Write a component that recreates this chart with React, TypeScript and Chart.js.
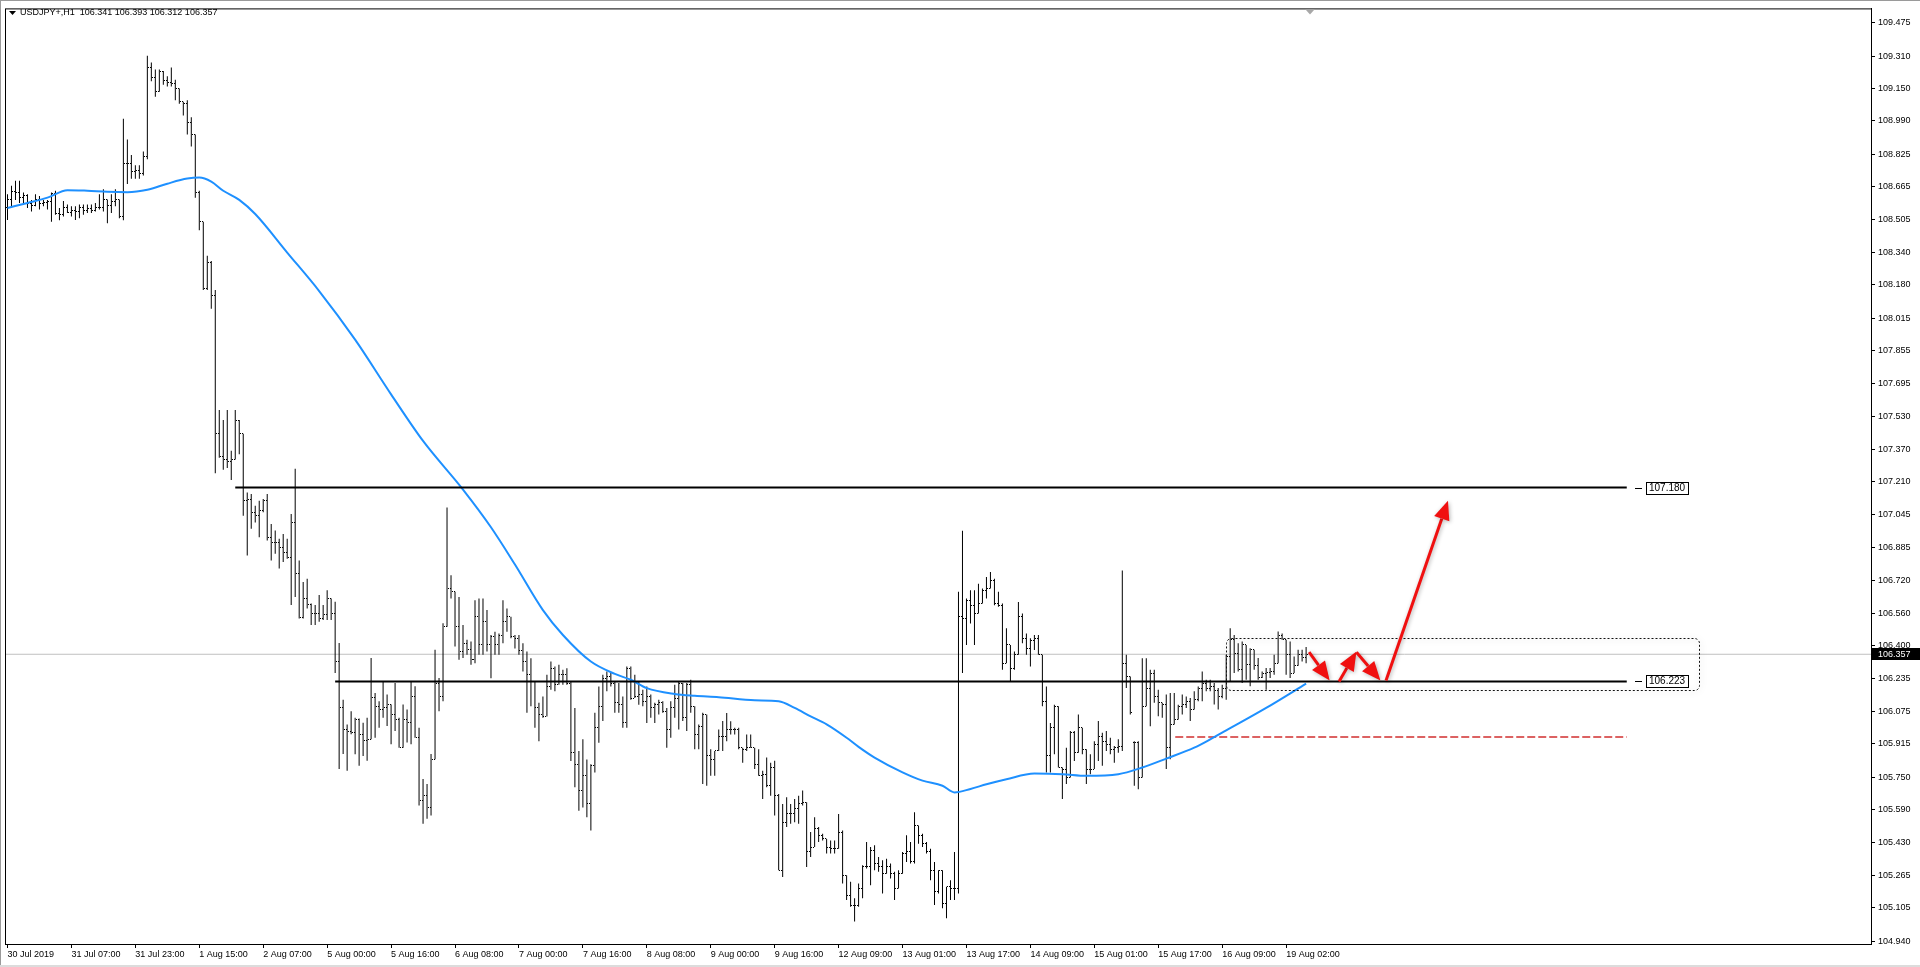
import { useEffect, useRef } from 'react';
import { Chart, registerables } from 'chart.js';

Chart.register(...registerables);

const FONT = '"Liberation Sans", Arial, sans-serif';

const symbolTitle = 'USDJPY+,H1';
const lastQuote = ['106.341', '106.393', '106.312', '106.357'];
const currentPrice = 106.357;

const timeTickBars = [0, 16, 32, 48, 64, 80, 96, 112, 128, 144, 160, 176, 192, 208, 224, 240, 256, 272, 288, 304, 320];
const timeLabels = ['30 Jul 2019', '31 Jul 07:00', '31 Jul 23:00', '1 Aug 15:00', '2 Aug 07:00', '5 Aug 00:00', '5 Aug 16:00', '6 Aug 08:00', '7 Aug 00:00', '7 Aug 16:00', '8 Aug 08:00', '9 Aug 00:00', '9 Aug 16:00', '12 Aug 09:00', '13 Aug 01:00', '13 Aug 17:00', '14 Aug 09:00', '15 Aug 01:00', '15 Aug 17:00', '16 Aug 09:00', '19 Aug 02:00'];

const priceTicks = [109.475, 109.310, 109.150, 108.990, 108.825, 108.665, 108.505, 108.340, 108.180, 108.015, 107.855, 107.695, 107.530, 107.370, 107.210, 107.045, 106.885, 106.720, 106.560, 106.400, 106.235, 106.075, 105.915, 105.750, 105.590, 105.430, 105.265, 105.105, 104.940];

// hourly bars, index 0 = 30 Jul 2019 15:00
const barOpen = [
  108.560, 108.600, 108.640, 108.636, 108.610, 108.620, 108.580, 108.570, 108.600, 108.580,
  108.585, 108.590, 108.630, 108.535, 108.530, 108.560, 108.540, 108.550, 108.545, 108.560,
  108.550, 108.555, 108.550, 108.560, 108.560, 108.600, 108.570, 108.590, 108.600, 108.520,
  108.780, 108.780, 108.740, 108.746, 108.730, 108.813, 109.253, 109.202, 109.134, 109.236,
  109.190, 109.177, 109.175, 109.150, 109.084, 109.075, 108.982, 108.923, 108.636, 108.492,
  108.163, 108.290, 108.130, 107.445, 107.335, 107.320, 107.310, 107.320, 107.513, 107.445,
  107.115, 107.123, 107.058, 107.041, 107.066, 107.115, 106.935, 106.910, 106.910, 106.886,
  106.861, 106.837, 107.008, 106.755, 106.537, 106.632, 106.603, 106.559, 106.559, 106.534,
  106.551, 106.632, 106.559, 106.322, 106.093, 105.986, 105.978, 105.970, 106.035, 105.962,
  105.929, 105.937, 106.142, 106.101, 106.084, 106.093, 106.109, 106.060, 106.035, 105.896,
  106.035, 106.019, 106.150, 105.945, 105.635, 105.659, 105.602, 105.839, 106.215, 106.150,
  106.493, 106.681, 106.665, 106.493, 106.371, 106.412, 106.379, 106.330, 106.542, 106.403,
  106.517, 106.403, 106.444, 106.403, 106.452, 106.517, 106.542, 106.444, 106.436, 106.378,
  106.321, 106.256, 106.223, 106.092, 106.059, 106.051, 106.198, 106.288, 106.207, 106.256,
  106.256, 106.215, 105.871, 105.814, 105.683, 105.757, 105.618, 105.806, 105.994, 106.100,
  106.239, 106.247, 106.215, 106.117, 106.108, 106.018, 106.288, 106.141, 106.149, 106.157,
  106.125, 106.149, 106.092, 106.108, 106.117, 106.076, 105.986, 106.092, 106.141, 106.215,
  106.043, 106.207, 106.100, 105.961, 106.002, 106.059, 105.855, 105.839, 105.880, 105.953,
  105.953, 105.986, 105.986, 105.986, 105.896, 105.888, 105.896, 105.896, 105.814, 105.757,
  105.765, 105.708, 105.798, 105.659, 105.291, 105.528, 105.569, 105.569, 105.594, 105.618,
  105.626, 105.381, 105.405, 105.495, 105.463, 105.446, 105.405, 105.397, 105.397, 105.479,
  105.266, 105.168, 105.119, 105.119, 105.201, 105.307, 105.307, 105.389, 105.324, 105.307,
  105.274, 105.307, 105.274, 105.201, 105.274, 105.373, 105.381, 105.332, 105.512, 105.463,
  105.422, 105.381, 105.291, 105.185, 105.291, 105.127, 105.209, 105.201, 105.201, 106.542,
  106.534, 106.624, 106.599, 106.558, 106.607, 106.673, 106.681, 106.722, 106.607, 106.599,
  106.313, 106.403, 106.288, 106.354, 106.542, 106.436, 106.386, 106.427, 106.436, 106.354,
  106.125, 105.855, 105.994, 106.100, 105.798, 105.790, 105.749, 105.969, 105.871, 105.994,
  105.888, 105.790, 105.790, 105.912, 105.953, 105.928, 105.912, 105.888, 105.896, 105.904,
  106.313, 106.247, 105.920, 105.920, 105.749, 106.100, 106.190, 106.264, 106.149, 106.117,
  106.108, 105.896, 106.010, 106.035, 106.100, 106.108, 106.125, 106.084, 106.133, 106.190,
  106.215, 106.190, 106.200, 106.180, 106.150, 106.190, 106.346, 106.428, 106.362, 106.280,
  106.403, 106.305, 106.379, 106.300, 106.240, 106.260, 106.265, 106.270, 106.313, 106.452,
  106.428, 106.354, 106.264, 106.300, 106.354, 106.341
];
const barHigh = [
  108.628, 108.670, 108.695, 108.695, 108.636, 108.628, 108.600, 108.628, 108.619, 108.600,
  108.600, 108.636, 108.645, 108.560, 108.594, 108.577, 108.569, 108.569, 108.577, 108.577,
  108.577, 108.577, 108.585, 108.628, 108.653, 108.602, 108.628, 108.653, 108.602, 109.000,
  108.898, 108.822, 108.771, 108.771, 108.839, 109.312, 109.278, 109.244, 109.244, 109.236,
  109.210, 109.253, 109.193, 109.150, 109.084, 109.092, 109.008, 108.923, 108.645, 108.492,
  108.324, 108.298, 108.155, 107.563, 107.513, 107.563, 107.361, 107.563, 107.513, 107.445,
  107.156, 107.148, 107.090, 107.115, 107.123, 107.148, 107.000, 106.968, 106.927, 106.951,
  106.927, 107.049, 107.273, 106.820, 106.714, 106.730, 106.608, 106.600, 106.649, 106.600,
  106.673, 106.632, 106.616, 106.412, 106.133, 106.010, 106.076, 106.043, 106.040, 106.019,
  106.043, 106.338, 106.166, 106.125, 106.223, 106.158, 106.109, 106.215, 106.043, 106.109,
  106.084, 106.223, 106.199, 105.994, 105.741, 105.716, 105.864, 106.379, 106.240, 106.510,
  107.082, 106.747, 106.665, 106.640, 106.501, 106.428, 106.420, 106.624, 106.632, 106.632,
  106.575, 106.452, 106.468, 106.460, 106.624, 106.583, 106.542, 106.452, 106.452, 106.411,
  106.370, 106.337, 106.223, 106.117, 106.149, 106.256, 106.321, 106.297, 106.305, 106.280,
  106.288, 106.223, 106.092, 105.879, 105.937, 105.838, 105.814, 106.068, 106.198, 106.256,
  106.272, 106.264, 106.223, 106.215, 106.149, 106.297, 106.297, 106.256, 106.223, 106.182,
  106.198, 106.158, 106.117, 106.133, 106.125, 106.092, 106.125, 106.207, 106.223, 106.215,
  106.215, 106.231, 106.100, 106.010, 106.068, 106.059, 105.888, 105.880, 105.986, 106.027,
  106.067, 106.026, 105.994, 105.994, 105.896, 105.961, 105.961, 105.896, 105.888, 105.782,
  105.847, 105.822, 105.831, 105.667, 105.618, 105.651, 105.618, 105.643, 105.659, 105.684,
  105.626, 105.479, 105.553, 105.504, 105.471, 105.446, 105.438, 105.438, 105.569, 105.487,
  105.266, 105.234, 105.152, 105.225, 105.316, 105.430, 105.405, 105.414, 105.356, 105.340,
  105.348, 105.324, 105.283, 105.291, 105.381, 105.463, 105.430, 105.577, 105.512, 105.471,
  105.430, 105.397, 105.332, 105.291, 105.291, 105.209, 105.242, 105.381, 106.665, 106.967,
  106.632, 106.673, 106.673, 106.705, 106.681, 106.738, 106.763, 106.730, 106.665, 106.607,
  106.485, 106.403, 106.370, 106.615, 106.558, 106.460, 106.436, 106.452, 106.452, 106.354,
  106.198, 106.018, 106.108, 106.100, 105.798, 105.896, 105.978, 105.978, 106.059, 105.994,
  105.888, 105.863, 105.928, 106.027, 105.969, 105.978, 105.945, 105.904, 105.937, 106.771,
  106.354, 106.247, 105.928, 105.928, 106.337, 106.337, 106.280, 106.280, 106.182, 106.117,
  106.158, 106.166, 106.166, 106.108, 106.158, 106.149, 106.141, 106.174, 106.198, 106.272,
  106.231, 106.231, 106.215, 106.190, 106.207, 106.354, 106.485, 106.452, 106.411, 106.420,
  106.403, 106.387, 106.379, 106.338, 106.272, 106.289, 106.289, 106.354, 106.469, 106.460,
  106.428, 106.420, 106.346, 106.379, 106.379, 106.393
];
const barLow = [
  108.501, 108.560, 108.600, 108.585, 108.577, 108.560, 108.543, 108.569, 108.552, 108.569,
  108.552, 108.492, 108.526, 108.500, 108.518, 108.535, 108.518, 108.501, 108.509, 108.526,
  108.535, 108.535, 108.543, 108.552, 108.543, 108.484, 108.535, 108.569, 108.509, 108.500,
  108.678, 108.704, 108.704, 108.704, 108.720, 108.800, 109.185, 109.109, 109.134, 109.168,
  109.160, 109.160, 109.092, 109.075, 109.016, 108.923, 108.864, 108.611, 108.450, 108.155,
  108.155, 108.062, 107.251, 107.327, 107.268, 107.276, 107.217, 107.319, 107.344, 107.041,
  106.845, 106.976, 107.008, 106.935, 107.058, 106.918, 106.820, 106.853, 106.780, 106.812,
  106.829, 106.600, 106.640, 106.534, 106.534, 106.583, 106.501, 106.501, 106.518, 106.526,
  106.526, 106.526, 106.264, 105.790, 105.864, 105.782, 105.962, 105.864, 105.806, 105.855,
  105.831, 105.937, 105.945, 105.994, 106.043, 106.003, 105.913, 105.978, 105.896, 105.896,
  105.921, 105.913, 105.945, 105.610, 105.520, 105.545, 105.561, 105.839, 106.076, 106.125,
  106.493, 106.632, 106.395, 106.330, 106.338, 106.354, 106.305, 106.313, 106.354, 106.354,
  106.370, 106.239, 106.354, 106.354, 106.411, 106.468, 106.436, 106.386, 106.354, 106.272,
  106.068, 106.100, 105.994, 105.928, 106.043, 106.050, 106.182, 106.174, 106.207, 106.207,
  106.207, 105.830, 105.700, 105.585, 105.601, 105.552, 105.487, 105.773, 105.920, 106.027,
  106.174, 106.198, 106.068, 106.068, 105.994, 105.994, 106.133, 106.141, 106.108, 106.100,
  106.018, 106.043, 106.018, 106.059, 106.068, 105.896, 105.945, 106.043, 105.986, 106.027,
  105.978, 106.068, 105.888, 105.888, 105.716, 105.708, 105.757, 105.757, 105.880, 105.880,
  105.928, 105.961, 105.961, 105.888, 105.822, 105.879, 105.896, 105.790, 105.757, 105.643,
  105.700, 105.659, 105.561, 105.291, 105.258, 105.504, 105.520, 105.528, 105.520, 105.610,
  105.307, 105.356, 105.405, 105.430, 105.438, 105.373, 105.373, 105.373, 105.397, 105.225,
  105.144, 105.111, 105.038, 105.111, 105.152, 105.299, 105.217, 105.291, 105.283, 105.176,
  105.274, 105.250, 105.144, 105.201, 105.274, 105.332, 105.324, 105.324, 105.422, 105.405,
  105.373, 105.242, 105.119, 105.176, 105.103, 105.054, 105.144, 105.144, 105.176, 106.264,
  106.403, 106.509, 106.403, 106.558, 106.607, 106.632, 106.681, 106.599, 106.591, 106.280,
  106.313, 106.223, 106.280, 106.354, 106.411, 106.354, 106.297, 106.378, 106.354, 106.100,
  105.773, 105.773, 105.863, 105.798, 105.642, 105.716, 105.749, 105.830, 105.871, 105.863,
  105.716, 105.765, 105.790, 105.830, 105.806, 105.880, 105.863, 105.822, 105.871, 105.880,
  106.190, 106.059, 105.708, 105.691, 105.749, 106.100, 106.002, 106.117, 106.051, 106.043,
  105.790, 105.839, 106.010, 106.035, 106.059, 106.092, 106.027, 106.084, 106.125, 106.125,
  106.174, 106.174, 106.109, 106.084, 106.140, 106.133, 106.223, 106.264, 106.272, 106.215,
  106.231, 106.199, 106.280, 106.231, 106.240, 106.182, 106.240, 106.256, 106.313, 106.428,
  106.256, 106.240, 106.264, 106.300, 106.321, 106.312
];
const barClose = [
  108.600, 108.640, 108.636, 108.610, 108.620, 108.580, 108.570, 108.600, 108.580, 108.585,
  108.590, 108.630, 108.535, 108.530, 108.560, 108.540, 108.550, 108.545, 108.560, 108.550,
  108.555, 108.550, 108.560, 108.560, 108.600, 108.570, 108.590, 108.600, 108.520, 108.780,
  108.780, 108.740, 108.746, 108.730, 108.813, 109.253, 109.202, 109.134, 109.236, 109.190,
  109.177, 109.175, 109.150, 109.084, 109.075, 108.982, 108.923, 108.636, 108.492, 108.163,
  108.290, 108.130, 107.445, 107.335, 107.320, 107.310, 107.320, 107.513, 107.445, 107.115,
  107.123, 107.058, 107.041, 107.066, 107.115, 106.935, 106.910, 106.910, 106.886, 106.861,
  106.837, 107.008, 106.755, 106.537, 106.632, 106.603, 106.559, 106.559, 106.534, 106.551,
  106.632, 106.559, 106.322, 106.093, 105.986, 105.978, 105.970, 106.035, 105.962, 105.929,
  105.937, 106.142, 106.101, 106.084, 106.093, 106.109, 106.060, 106.035, 105.896, 106.035,
  106.019, 106.150, 105.945, 105.635, 105.659, 105.602, 105.839, 106.215, 106.150, 106.493,
  106.681, 106.665, 106.493, 106.371, 106.412, 106.379, 106.330, 106.542, 106.403, 106.517,
  106.403, 106.444, 106.403, 106.452, 106.517, 106.542, 106.444, 106.436, 106.378, 106.321,
  106.256, 106.223, 106.092, 106.059, 106.051, 106.198, 106.288, 106.207, 106.256, 106.256,
  106.215, 105.871, 105.814, 105.683, 105.757, 105.618, 105.806, 105.994, 106.100, 106.239,
  106.247, 106.215, 106.117, 106.108, 106.018, 106.288, 106.141, 106.149, 106.157, 106.125,
  106.149, 106.092, 106.108, 106.117, 106.076, 105.986, 106.092, 106.141, 106.215, 106.043,
  106.207, 106.100, 105.961, 106.002, 106.059, 105.855, 105.839, 105.880, 105.953, 105.953,
  105.986, 105.986, 105.986, 105.896, 105.888, 105.896, 105.896, 105.814, 105.757, 105.765,
  105.708, 105.798, 105.659, 105.291, 105.528, 105.569, 105.569, 105.594, 105.618, 105.626,
  105.381, 105.405, 105.495, 105.463, 105.446, 105.405, 105.397, 105.397, 105.479, 105.266,
  105.168, 105.119, 105.119, 105.201, 105.307, 105.307, 105.389, 105.324, 105.307, 105.274,
  105.307, 105.274, 105.201, 105.274, 105.373, 105.381, 105.332, 105.512, 105.463, 105.422,
  105.381, 105.291, 105.185, 105.291, 105.127, 105.209, 105.201, 105.201, 106.542, 106.534,
  106.624, 106.599, 106.558, 106.607, 106.673, 106.681, 106.722, 106.607, 106.599, 106.313,
  106.403, 106.288, 106.354, 106.542, 106.436, 106.386, 106.427, 106.436, 106.354, 106.125,
  105.855, 105.994, 106.100, 105.798, 105.790, 105.749, 105.969, 105.871, 105.994, 105.888,
  105.790, 105.790, 105.912, 105.953, 105.928, 105.912, 105.888, 105.896, 105.904, 106.313,
  106.247, 106.068, 105.920, 105.749, 106.100, 106.190, 106.264, 106.149, 106.117, 106.108,
  105.896, 106.010, 106.035, 106.100, 106.108, 106.125, 106.084, 106.133, 106.190, 106.215,
  106.190, 106.200, 106.180, 106.150, 106.190, 106.346, 106.428, 106.362, 106.280, 106.403,
  106.305, 106.379, 106.300, 106.240, 106.260, 106.265, 106.270, 106.313, 106.452, 106.428,
  106.354, 106.264, 106.300, 106.354, 106.341, 106.357
];

// moving average read along its path (bar index, price)
const maBars = [0, 5, 10, 15, 20, 25, 30, 35, 40, 45, 48, 51, 54, 58, 62, 70, 78, 87, 96, 104, 114, 121, 127, 134, 139, 146, 152, 156, 160, 167, 172, 178, 187, 193, 197, 201, 205, 210, 213, 217, 224, 229, 234, 237, 241, 245, 250, 257, 264, 270, 278, 284, 290, 297, 301, 305, 315, 325];
const maValues = [108.560, 108.585, 108.611, 108.648, 108.645, 108.640, 108.638, 108.650, 108.680, 108.705, 108.710, 108.690, 108.645, 108.600, 108.530, 108.340, 108.150, 107.910, 107.640, 107.410, 107.170, 106.984, 106.800, 106.575, 106.452, 106.321, 106.260, 106.231, 106.190, 106.161, 106.152, 106.145, 106.130, 106.125, 106.092, 106.050, 106.011, 105.945, 105.900, 105.847, 105.774, 105.733, 105.708, 105.675, 105.692, 105.715, 105.740, 105.768, 105.765, 105.757, 105.765, 105.798, 105.842, 105.896, 105.937, 105.981, 106.092, 106.212];

// drawn objects
const levelPrices = [107.180, 106.223];
const levelStartBars = [57, 82];
const levelEndBar = 405.25;
const supportPrice = 105.948;
const supportBars = [292.25, 405.25];
const zoneBars = [305, 423.25];
const zonePrices = [106.435, 106.18];
const arrowFromBars = [325.75, 333.25, 337.6, 345.0];
const arrowFromPrices = [106.367, 106.223, 106.367, 106.227];
const arrowToBars = [330.9, 337.6, 343.6, 360.5];
const arrowToPrices = [106.227, 106.370, 106.227, 107.115];

const X_MIN = -0.625;
const X_MAX = 466.375;
const Y_MIN = 104.9267;
const Y_MAX = 109.5452;

function makeTickImage(col: number) {
  const c = document.createElement('canvas');
  c.width = 3;
  c.height = 1;
  const g = c.getContext('2d')!;
  g.fillStyle = '#000';
  g.fillRect(col, 0, 1, 1);
  return c;
}

function drawArrow(ctx: CanvasRenderingContext2D, x1: number, y1: number, x2: number, y2: number) {
  const ang = Math.atan2(y2 - y1, x2 - x1);
  const L = 19;
  const W = 8;
  const bx = x2 - L * Math.cos(ang);
  const by = y2 - L * Math.sin(ang);
  ctx.beginPath();
  ctx.moveTo(x1, y1);
  ctx.lineTo(bx, by);
  ctx.stroke();
  ctx.beginPath();
  ctx.moveTo(x2, y2);
  ctx.lineTo(bx + W * Math.sin(ang), by - W * Math.cos(ang));
  ctx.lineTo(bx - W * Math.sin(ang), by + W * Math.cos(ang));
  ctx.closePath();
  ctx.fill();
}

const decorPlugin = {
  id: 'mtDecor',
  beforeDatasetsDraw(chart: any) {
    chart.ctx.imageSmoothingEnabled = false;
  },
  afterDatasetsDraw(chart: any) {
    const { ctx, chartArea: a } = chart;
    const x = chart.scales.x;
    const y = chart.scales.y;
    ctx.save();
    ctx.imageSmoothingEnabled = true;
    ctx.beginPath();
    ctx.rect(a.left, a.top, a.right - a.left, a.bottom - a.top);
    ctx.clip();

    // dotted zone rectangle
    const zx1 = Math.round(x.getPixelForValue(zoneBars[0])) + 0.5;
    const zx2 = Math.round(x.getPixelForValue(zoneBars[1])) + 0.5;
    const zy1 = Math.round(y.getPixelForValue(zonePrices[0])) + 0.5;
    const zy2 = Math.round(y.getPixelForValue(zonePrices[1])) + 0.5;
    ctx.save();
    ctx.shadowColor = 'rgba(0,0,0,0.28)';
    ctx.shadowBlur = 6;
    ctx.shadowOffsetX = 1;
    ctx.shadowOffsetY = 1;
    ctx.strokeStyle = '#111';
    ctx.lineWidth = 1;
    ctx.setLineDash([2, 2]);
    ctx.beginPath();
    ctx.roundRect(zx1, zy1, zx2 - zx1, zy2 - zy1, 5);
    ctx.stroke();
    ctx.restore();

    // red arrows
    ctx.save();
    ctx.shadowColor = 'rgba(0,0,0,0.3)';
    ctx.shadowBlur = 4;
    ctx.shadowOffsetX = 1;
    ctx.shadowOffsetY = 1;
    ctx.strokeStyle = '#f01010';
    ctx.fillStyle = '#f01010';
    ctx.lineWidth = 3;
    ctx.lineCap = 'butt';
    for (let i = 0; i < arrowFromBars.length; i++) {
      drawArrow(
        ctx,
        x.getPixelForValue(arrowFromBars[i]),
        y.getPixelForValue(arrowFromPrices[i]),
        x.getPixelForValue(arrowToBars[i]),
        y.getPixelForValue(arrowToPrices[i])
      );
    }
    ctx.restore();
    ctx.restore();
  },
  afterDraw(chart: any) {
    const { ctx, chartArea: a } = chart;
    const x = chart.scales.x;
    const y = chart.scales.y;
    ctx.save();
    ctx.imageSmoothingEnabled = true;

    // level labels
    ctx.font = `10px ${FONT}`;
    ctx.textBaseline = 'middle';
    ctx.textAlign = 'left';
    levelPrices.forEach((p) => {
      const py = Math.round(y.getPixelForValue(p));
      const sx1 = Math.round(x.getPixelForValue(levelEndBar + 2));
      const sx2 = Math.round(x.getPixelForValue(levelEndBar + 3.75));
      ctx.fillStyle = '#000';
      ctx.fillRect(sx1, py, sx2 - sx1, 1);
      const txt = p.toFixed(3);
      const bx = Math.round(x.getPixelForValue(levelEndBar + 4.75));
      const w = Math.ceil(ctx.measureText(txt).width) + 5;
      ctx.fillStyle = '#fff';
      ctx.fillRect(bx, py - 6, w, 12);
      ctx.strokeStyle = '#000';
      ctx.lineWidth = 1;
      ctx.strokeRect(bx + 0.5, py - 5.5, w, 12);
      ctx.fillStyle = '#000';
      ctx.fillText(txt, bx + 3, py + 0.5);
    });

    // chart frame
    ctx.strokeStyle = '#000';
    ctx.lineWidth = 1;
    ctx.strokeRect(a.left + 0.5, a.top + 0.5, a.right - a.left, a.bottom - a.top);

    // current price marker on the axis
    const cy = Math.round(y.getPixelForValue(currentPrice));
    ctx.fillStyle = '#000';
    ctx.fillRect(a.right + 1, cy - 6, chart.width - a.right - 1, 12);
    ctx.fillStyle = '#fff';
    ctx.font = `9px ${FONT}`;
    ctx.fillText(currentPrice.toFixed(3), a.right + 7, cy + 0.5);

    // title
    ctx.fillStyle = '#000';
    ctx.beginPath();
    ctx.moveTo(9, 11);
    ctx.lineTo(16, 11);
    ctx.lineTo(12.5, 15);
    ctx.closePath();
    ctx.fill();
    ctx.font = `9px ${FONT}`;
    ctx.fillText(`${symbolTitle}  ${lastQuote.join(' ')}`, 20, 13);

    // chart shift marker
    const sx = Math.round(x.getPixelForValue(barClose.length));
    ctx.fillStyle = '#a8a8a8';
    ctx.beginPath();
    ctx.moveTo(sx - 4.5, a.top + 1);
    ctx.lineTo(sx + 4.5, a.top + 1);
    ctx.lineTo(sx, a.top + 6);
    ctx.closePath();
    ctx.fill();

    // window frame
    ctx.fillStyle = '#9a9a9a';
    ctx.fillRect(0, 0, chart.width, 1);
    ctx.fillRect(0, 0, 1, chart.height);
    ctx.fillStyle = '#dcdcdc';
    ctx.fillRect(0, chart.height - 2, chart.width, 2);
    ctx.restore();
  },
};

export default function App() {
  const ref = useRef<HTMLCanvasElement>(null);

  useEffect(() => {
    document.body.style.margin = '0';
    const canvas = ref.current!;
    const idx = barClose.map((_, i) => i);
    const openImg = makeTickImage(0);
    const closeImg = makeTickImage(2);

    const lineBase = { type: 'line', pointRadius: 0, fill: false, tension: 0 };

    const datasets: any[] = [
      {
        ...lineBase,
        label: 'current',
        data: [{ x: X_MIN, y: currentPrice }, { x: X_MAX, y: currentPrice }],
        borderColor: '#c0c0c0',
        borderWidth: 1,
        order: 30,
      },
      {
        type: 'bar',
        label: 'range',
        data: idx.map((i) => ({ x: i, y: [barLow[i], barHigh[i]] })),
        backgroundColor: '#000',
        borderWidth: 0,
        barThickness: 1,
        inflateAmount: 0,
        grouped: false,
        order: 20,
      },
      {
        type: 'scatter',
        label: 'open',
        data: idx.map((i) => ({ x: i, y: barOpen[i] })),
        pointStyle: openImg,
        pointRadius: 1,
        order: 19,
      },
      {
        type: 'scatter',
        label: 'close',
        data: idx.map((i) => ({ x: i, y: barClose[i] })),
        pointStyle: closeImg,
        pointRadius: 1,
        order: 18,
      },
      {
        ...lineBase,
        label: 'support',
        data: supportBars.map((b) => ({ x: b, y: supportPrice })),
        borderColor: 'rgba(214,70,70,0.85)',
        borderWidth: 2,
        borderDash: [8, 3],
        order: 12,
      },
      {
        ...lineBase,
        label: 'MA',
        data: maBars.map((b, i) => ({ x: b, y: maValues[i] })),
        borderColor: '#1e90ff',
        borderWidth: 2,
        cubicInterpolationMode: 'monotone',
        order: 10,
      },
      ...levelPrices.map((p, k) => ({
        ...lineBase,
        label: 'level' + k,
        data: [{ x: levelStartBars[k], y: p }, { x: levelEndBar, y: p }],
        borderColor: '#000',
        borderWidth: 2,
        order: 5,
      })),
    ];

    Chart.defaults.font.family = FONT;
    Chart.defaults.font.size = 9;
    Chart.defaults.color = '#000';

    const chart = new Chart(canvas, {
      type: 'bar',
      data: { datasets },
      options: {
        responsive: false,
        maintainAspectRatio: false,
        devicePixelRatio: 1,
        animation: false,
        events: [],
        layout: { padding: { left: 3, top: 3, right: 0, bottom: 0 } },
        plugins: { legend: { display: false }, tooltip: { enabled: false } },
        scales: {
          x: {
            type: 'linear',
            offset: false,
            min: X_MIN,
            max: X_MAX,
            position: 'bottom',
            afterFit: (s: any) => {
              s.height = 23;
            },
            afterBuildTicks: (s: any) => {
              s.ticks = timeTickBars.map((v) => ({ value: v }));
            },
            grid: { offset: false, drawOnChartArea: false, drawTicks: true, tickLength: 4, color: '#000', lineWidth: 1 },
            border: { display: true, color: '#000', width: 1 },
            ticks: {
              autoSkip: false,
              maxRotation: 0,
              minRotation: 0,
              align: 'start',
              padding: 1,
              color: '#000',
              font: { family: FONT, size: 9 },
              callback: (_v: any, i: number) => timeLabels[i],
            },
          },
          y: {
            type: 'linear',
            position: 'right',
            min: Y_MIN,
            max: Y_MAX,
            afterFit: (s: any) => {
              s.width = 49;
            },
            afterBuildTicks: (s: any) => {
              s.ticks = priceTicks.map((v) => ({ value: v }));
            },
            grid: { drawOnChartArea: false, drawTicks: true, tickLength: 4, color: '#000', lineWidth: 1 },
            border: { display: true, color: '#000', width: 1 },
            ticks: {
              autoSkip: false,
              padding: 3,
              color: '#000',
              font: { family: FONT, size: 9 },
              callback: (v: any) => Number(v).toFixed(3),
            },
          },
        },
      } as any,
      plugins: [decorPlugin],
    } as any);

    return () => chart.destroy();
  }, []);

  return <canvas ref={ref} width={1920} height={967} style={{ display: 'block' }} />;
}
